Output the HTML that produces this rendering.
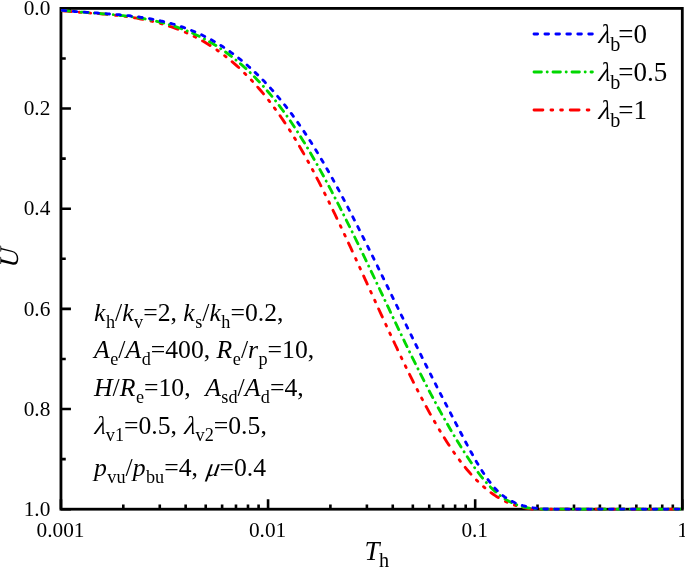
<!DOCTYPE html>
<html lang="en"><head><meta charset="utf-8"><title>U vs Th</title>
<style>
html,body{margin:0;padding:0;background:#fff}
svg{display:block}
text{white-space:pre;font-family:"Liberation Serif","Times New Roman",serif;fill:#000}
.i{font-style:italic}
.tk{font-size:21.3px}
.lg{font-size:27px}
.an{font-size:25.7px}
</style></head>
<body>
<svg width="685" height="567" viewBox="0 0 685 567">
<rect width="685" height="567" fill="#fff"/>
<path d="M60.95 8.40H70.95M60.95 108.56H70.95M60.95 208.72H70.95M60.95 308.88H70.95M60.95 409.04H70.95M60.95 509.20H70.95M60.95 58.48H65.75M60.95 158.64H65.75M60.95 258.80H65.75M60.95 358.96H65.75M60.95 459.12H65.75M60.95 509.20V499.20M123.30 509.20V504.40M159.77 509.20V504.40M185.65 509.20V504.40M205.72 509.20V504.40M222.12 509.20V504.40M235.98 509.20V504.40M247.99 509.20V504.40M258.59 509.20V504.40M268.07 509.20V499.20M330.41 509.20V504.40M366.89 509.20V504.40M392.76 509.20V504.40M412.84 509.20V504.40M429.23 509.20V504.40M443.10 509.20V504.40M455.11 509.20V504.40M465.71 509.20V504.40M475.18 509.20V499.20M537.53 509.20V504.40M574.00 509.20V504.40M599.88 509.20V504.40M619.95 509.20V504.40M636.35 509.20V504.40M650.22 509.20V504.40M662.23 509.20V504.40M672.82 509.20V504.40M682.30 509.20V499.20" stroke="#000" stroke-width="2.6" fill="none"/>
<rect x="60.95" y="8.4" width="621.35" height="500.80" fill="none" stroke="#000" stroke-width="2.8"/>
<clipPath id="cp"><rect x="60.85" y="0" width="620.05" height="567"/></clipPath>
<g clip-path="url(#cp)" fill="none" stroke-width="2.85" stroke-linecap="round">
<polyline points="60.9,10.6 62.9,10.8 64.9,11.0 66.9,11.2 68.9,11.4 70.9,11.5 72.9,11.7 74.9,11.8 76.9,12.0 78.9,12.2 80.9,12.3 82.9,12.5 84.9,12.6 86.9,12.8 88.9,12.9 90.9,13.1 92.9,13.2 94.9,13.4 96.9,13.5 98.9,13.7 100.9,13.9 102.9,14.0 104.9,14.2 106.9,14.4 108.9,14.6 110.9,14.8 112.9,15.0 114.9,15.2 116.9,15.4 118.9,15.7 120.9,15.9 122.9,16.1 124.9,16.4 126.9,16.7 128.9,17.0 130.9,17.3 132.9,17.6 134.9,17.9 136.9,18.2 138.9,18.6 140.9,19.0 142.9,19.3 144.9,19.7 146.9,20.2 148.9,20.6 150.9,21.0 152.9,21.5 154.9,22.0 156.9,22.5 158.9,23.1 160.9,23.6 162.9,24.2 164.9,24.8 166.9,25.4 168.9,26.1 170.9,26.7 172.9,27.4 174.9,28.1 176.9,28.9 178.9,29.6 180.9,30.4 182.9,31.3 184.9,32.1 186.9,33.0 188.9,33.9 190.9,34.8 192.9,35.8 194.9,36.8 196.9,37.8 198.9,38.9 200.9,40.0 202.9,41.1 204.9,42.3 206.9,43.5 208.9,44.7 210.9,46.0 212.9,47.3 214.9,48.6 216.9,50.0 218.9,51.4 220.9,52.9 222.9,54.4 224.9,55.9 226.9,57.5 228.9,59.1 230.9,60.7 232.9,62.4 234.9,64.1 236.9,65.9 238.9,67.7 240.9,69.6 242.9,71.5 244.9,73.5 246.9,75.5 248.9,77.5 250.9,79.6 252.9,81.7 254.9,83.9 256.9,86.2 258.9,88.5 260.9,90.8 262.9,93.2 264.9,95.6 266.9,98.1 268.9,100.6 270.9,103.2 272.9,105.9 274.9,108.6 276.9,111.3 278.9,114.1 280.9,117.0 282.9,119.9 284.9,122.9 286.9,125.9 288.9,129.0 290.9,132.1 292.9,135.3 294.9,138.6 296.9,141.9 298.9,145.3 300.9,148.7 302.9,152.2 304.9,155.8 306.9,159.4 308.9,163.0 310.9,166.7 312.9,170.4 314.9,174.2 316.9,178.1 318.9,181.9 320.9,185.8 322.9,189.8 324.9,193.8 326.9,197.8 328.9,201.9 330.9,205.9 332.9,210.1 334.9,214.2 336.9,218.4 338.9,222.6 340.9,226.8 342.9,231.1 344.9,235.3 346.9,239.6 348.9,243.9 350.9,248.2 352.9,252.6 354.9,256.9 356.9,261.3 358.9,265.7 360.9,270.0 362.9,274.4 364.9,278.8 366.9,283.2 368.9,287.6 370.9,292.0 372.9,296.4 374.9,300.7 376.9,305.1 378.9,309.5 380.9,313.9 382.9,318.2 384.9,322.5 386.9,326.9 388.9,331.2 390.9,335.5 392.9,339.8 394.9,344.0 396.9,348.2 398.9,352.4 400.9,356.6 402.9,360.8 404.9,364.9 406.9,369.0 408.9,373.1 410.9,377.1 412.9,381.1 414.9,385.1 416.9,389.0 418.9,392.9 420.9,396.7 422.9,400.5 424.9,404.2 426.9,407.9 428.9,411.6 430.9,415.2 432.9,418.7 434.9,422.2 436.9,425.6 438.9,429.0 440.9,432.3 442.9,435.6 444.9,438.8 446.9,441.9 448.9,445.0 450.9,448.0 452.9,450.9 454.9,453.8 456.9,456.6 458.9,459.3 460.9,461.9 462.9,464.5 464.9,467.0 466.9,469.5 468.9,471.8 470.9,474.1 472.9,476.3 474.9,478.4 476.9,480.5 478.9,482.4 480.9,484.3 482.9,486.1 484.9,487.8 486.9,489.5 488.9,491.1 490.9,492.6 492.9,494.0 494.9,495.4 496.9,496.7 498.9,497.9 500.9,499.0 502.9,500.1 504.9,501.1 506.9,502.1 508.9,502.9 510.9,503.8 512.9,504.5 514.9,505.2 516.9,505.9 518.9,506.4 520.9,507.0 522.9,507.5 524.9,507.9 526.9,508.3 528.9,508.6 530.9,508.9 532.9,509.1 534.9,509.1 536.9,509.1 538.9,509.1 540.9,509.1 542.9,509.1 544.9,509.1 546.9,509.1 548.9,509.1 550.9,509.1 552.9,509.1 554.9,509.1 556.9,509.1 558.9,509.1 560.9,509.1 562.9,509.1 564.9,509.1 566.9,509.1 568.9,509.1 570.9,509.1 572.9,509.1 574.9,509.1 576.9,509.1 578.9,509.1 580.9,509.1 582.9,509.1 584.9,509.1 586.9,509.1 588.9,509.1 590.9,509.1 592.9,509.1 594.9,509.1 596.9,509.1 598.9,509.1 600.9,509.1 602.9,509.1 604.9,509.1 606.9,509.1 608.9,509.1 610.9,509.1 612.9,509.1 614.9,509.1 616.9,509.1 618.9,509.1 620.9,509.1 622.9,509.1 624.9,509.1 626.9,509.1 628.9,509.1 630.9,509.1 632.9,509.1 634.9,509.1 636.9,509.1 638.9,509.1 640.9,509.1 642.9,509.1 644.9,509.1 646.9,509.1 648.9,509.1 650.9,509.1 652.9,509.1 654.9,509.1 656.9,509.1 658.9,509.1 660.9,509.1 662.9,509.1 664.9,509.1 666.9,509.1 668.9,509.1 670.9,509.1 672.9,509.1 674.9,509.1 676.9,509.1 678.9,509.1 680.9,509.1" stroke="#ff0000" stroke-dasharray="8.9 8.05 1.8 7.9 1.8 7.75" stroke-dashoffset="-1.4"/>
<polyline points="60.9,10.3 62.9,10.5 64.9,10.7 66.9,10.9 68.9,11.1 70.9,11.3 72.9,11.4 74.9,11.6 76.9,11.8 78.9,11.9 80.9,12.1 82.9,12.2 84.9,12.4 86.9,12.5 88.9,12.7 90.9,12.8 92.9,13.0 94.9,13.1 96.9,13.3 98.9,13.4 100.9,13.6 102.9,13.8 104.9,13.9 106.9,14.1 108.9,14.3 110.9,14.4 112.9,14.6 114.9,14.8 116.9,15.0 118.9,15.2 120.9,15.5 122.9,15.7 124.9,15.9 126.9,16.2 128.9,16.4 130.9,16.7 132.9,17.0 134.9,17.2 136.9,17.6 138.9,17.9 140.9,18.2 142.9,18.5 144.9,18.9 146.9,19.3 148.9,19.7 150.9,20.1 152.9,20.5 154.9,20.9 156.9,21.4 158.9,21.9 160.9,22.4 162.9,22.9 164.9,23.4 166.9,24.0 168.9,24.5 170.9,25.1 172.9,25.8 174.9,26.4 176.9,27.1 178.9,27.8 180.9,28.5 182.9,29.2 184.9,30.0 186.9,30.8 188.9,31.6 190.9,32.5 192.9,33.3 194.9,34.3 196.9,35.2 198.9,36.1 200.9,37.1 202.9,38.2 204.9,39.2 206.9,40.3 208.9,41.4 210.9,42.6 212.9,43.8 214.9,45.0 216.9,46.2 218.9,47.5 220.9,48.9 222.9,50.2 224.9,51.6 226.9,53.0 228.9,54.5 230.9,56.0 232.9,57.6 234.9,59.2 236.9,60.8 238.9,62.5 240.9,64.2 242.9,65.9 244.9,67.7 246.9,69.5 248.9,71.4 250.9,73.3 252.9,75.3 254.9,77.3 256.9,79.4 258.9,81.5 260.9,83.6 262.9,85.8 264.9,88.1 266.9,90.4 268.9,92.7 270.9,95.1 272.9,97.5 274.9,100.0 276.9,102.6 278.9,105.2 280.9,107.8 282.9,110.5 284.9,113.2 286.9,116.0 288.9,118.9 290.9,121.8 292.9,124.8 294.9,127.8 296.9,130.9 298.9,134.0 300.9,137.2 302.9,140.4 304.9,143.6 306.9,147.0 308.9,150.3 310.9,153.7 312.9,157.2 314.9,160.7 316.9,164.2 318.9,167.8 320.9,171.4 322.9,175.0 324.9,178.7 326.9,182.4 328.9,186.2 330.9,189.9 332.9,193.8 334.9,197.6 336.9,201.5 338.9,205.4 340.9,209.3 342.9,213.3 344.9,217.3 346.9,221.3 348.9,225.3 350.9,229.3 352.9,233.4 354.9,237.5 356.9,241.6 358.9,245.7 360.9,249.8 362.9,254.0 364.9,258.2 366.9,262.3 368.9,266.5 370.9,270.7 372.9,274.9 374.9,279.1 376.9,283.4 378.9,287.6 380.9,291.8 382.9,296.0 384.9,300.3 386.9,304.5 388.9,308.7 390.9,313.0 392.9,317.2 394.9,321.4 396.9,325.6 398.9,329.8 400.9,334.0 402.9,338.1 404.9,342.3 406.9,346.4 408.9,350.5 410.9,354.6 412.9,358.7 414.9,362.7 416.9,366.7 418.9,370.7 420.9,374.7 422.9,378.6 424.9,382.6 426.9,386.4 428.9,390.3 430.9,394.1 432.9,397.9 434.9,401.6 436.9,405.3 438.9,409.0 440.9,412.6 442.9,416.2 444.9,419.7 446.9,423.2 448.9,426.7 450.9,430.2 452.9,433.6 454.9,436.9 456.9,440.2 458.9,443.5 460.9,446.7 462.9,449.9 464.9,453.1 466.9,456.2 468.9,459.2 470.9,462.2 472.9,465.2 474.9,468.0 476.9,470.8 478.9,473.5 480.9,476.1 482.9,478.6 484.9,481.0 486.9,483.2 488.9,485.4 490.9,487.5 492.9,489.4 494.9,491.2 496.9,493.0 498.9,494.6 500.9,496.1 502.9,497.5 504.9,498.9 506.9,500.1 508.9,501.3 510.9,502.3 512.9,503.3 514.9,504.2 516.9,504.9 518.9,505.7 520.9,506.3 522.9,506.8 524.9,507.3 526.9,507.7 528.9,508.1 530.9,508.4 532.9,508.6 534.9,508.8 536.9,509.0 538.9,509.1 540.9,509.1 542.9,509.1 544.9,509.1 546.9,509.1 548.9,509.1 550.9,509.1 552.9,509.1 554.9,509.1 556.9,509.1 558.9,509.1 560.9,509.1 562.9,509.1 564.9,509.1 566.9,509.1 568.9,509.1 570.9,509.1 572.9,509.1 574.9,509.1 576.9,509.1 578.9,509.1 580.9,509.1 582.9,509.1 584.9,509.1 586.9,509.1 588.9,509.1 590.9,509.1 592.9,509.1 594.9,509.1 596.9,509.1 598.9,509.1 600.9,509.1 602.9,509.1 604.9,509.1 606.9,509.1 608.9,509.1 610.9,509.1 612.9,509.1 614.9,509.1 616.9,509.1 618.9,509.1 620.9,509.1 622.9,509.1 624.9,509.1 626.9,509.1 628.9,509.1 630.9,509.1 632.9,509.1 634.9,509.1 636.9,509.1 638.9,509.1 640.9,509.1 642.9,509.1 644.9,509.1 646.9,509.1 648.9,509.1 650.9,509.1 652.9,509.1 654.9,509.1 656.9,509.1 658.9,509.1 660.9,509.1 662.9,509.1 664.9,509.1 666.9,509.1 668.9,509.1 670.9,509.1 672.9,509.1 674.9,509.1 676.9,509.1 678.9,509.1 680.9,509.1" stroke="#00d800" stroke-dasharray="7.4 5.75 0.1 5.75" stroke-dashoffset="-1.4"/>
<polyline points="60.9,10.2 62.9,10.4 64.9,10.6 66.9,10.8 68.9,11.0 70.9,11.1 72.9,11.3 74.9,11.5 76.9,11.6 78.9,11.8 80.9,11.9 82.9,12.1 84.9,12.2 86.9,12.4 88.9,12.5 90.9,12.6 92.9,12.8 94.9,12.9 96.9,13.0 98.9,13.2 100.9,13.3 102.9,13.5 104.9,13.6 106.9,13.8 108.9,13.9 110.9,14.1 112.9,14.2 114.9,14.4 116.9,14.6 118.9,14.7 120.9,14.9 122.9,15.1 124.9,15.3 126.9,15.5 128.9,15.7 130.9,16.0 132.9,16.2 134.9,16.4 136.9,16.7 138.9,17.0 140.9,17.3 142.9,17.6 144.9,17.9 146.9,18.2 148.9,18.6 150.9,18.9 152.9,19.3 154.9,19.7 156.9,20.1 158.9,20.5 160.9,21.0 162.9,21.4 164.9,21.9 166.9,22.4 168.9,22.9 170.9,23.5 172.9,24.0 174.9,24.6 176.9,25.2 178.9,25.9 180.9,26.5 182.9,27.2 184.9,27.9 186.9,28.6 188.9,29.4 190.9,30.2 192.9,31.0 194.9,31.8 196.9,32.7 198.9,33.6 200.9,34.5 202.9,35.5 204.9,36.5 206.9,37.5 208.9,38.6 210.9,39.6 212.9,40.7 214.9,41.9 216.9,43.1 218.9,44.3 220.9,45.5 222.9,46.8 224.9,48.1 226.9,49.5 228.9,50.9 230.9,52.3 232.9,53.7 234.9,55.2 236.9,56.7 238.9,58.3 240.9,59.9 242.9,61.5 244.9,63.2 246.9,64.9 248.9,66.7 250.9,68.5 252.9,70.3 254.9,72.2 256.9,74.1 258.9,76.0 260.9,78.0 262.9,80.1 264.9,82.1 266.9,84.2 268.9,86.4 270.9,88.6 272.9,90.8 274.9,93.1 276.9,95.5 278.9,97.8 280.9,100.3 282.9,102.7 284.9,105.2 286.9,107.8 288.9,110.4 290.9,113.0 292.9,115.7 294.9,118.5 296.9,121.2 298.9,124.1 300.9,127.0 302.9,129.9 304.9,132.9 306.9,135.9 308.9,139.0 310.9,142.1 312.9,145.3 314.9,148.5 316.9,151.8 318.9,155.1 320.9,158.4 322.9,161.8 324.9,165.3 326.9,168.8 328.9,172.3 330.9,175.8 332.9,179.4 334.9,183.1 336.9,186.7 338.9,190.4 340.9,194.2 342.9,197.9 344.9,201.7 346.9,205.5 348.9,209.3 350.9,213.2 352.9,217.1 354.9,221.0 356.9,224.9 358.9,228.9 360.9,232.8 362.9,236.8 364.9,240.8 366.9,244.8 368.9,248.8 370.9,252.9 372.9,256.9 374.9,261.0 376.9,265.0 378.9,269.1 380.9,273.2 382.9,277.3 384.9,281.4 386.9,285.5 388.9,289.6 390.9,293.7 392.9,297.8 394.9,301.9 396.9,306.0 398.9,310.1 400.9,314.2 402.9,318.3 404.9,322.4 406.9,326.5 408.9,330.6 410.9,334.6 412.9,338.7 414.9,342.8 416.9,346.8 418.9,350.9 420.9,354.9 422.9,359.0 424.9,363.0 426.9,367.0 428.9,371.0 430.9,374.9 432.9,378.9 434.9,382.8 436.9,386.8 438.9,390.7 440.9,394.6 442.9,398.4 444.9,402.3 446.9,406.2 448.9,410.0 450.9,413.8 452.9,417.7 454.9,421.5 456.9,425.3 458.9,429.2 460.9,433.0 462.9,436.8 464.9,440.6 466.9,444.4 468.9,448.1 470.9,451.8 472.9,455.4 474.9,459.0 476.9,462.5 478.9,465.8 480.9,469.1 482.9,472.2 484.9,475.3 486.9,478.2 488.9,480.9 490.9,483.5 492.9,485.9 494.9,488.2 496.9,490.3 498.9,492.2 500.9,494.0 502.9,495.6 504.9,497.1 506.9,498.5 508.9,499.7 510.9,500.8 512.9,501.8 514.9,502.8 516.9,503.6 518.9,504.3 520.9,505.0 522.9,505.6 524.9,506.1 526.9,506.6 528.9,507.1 530.9,507.5 532.9,507.8 534.9,508.1 536.9,508.3 538.9,508.5 540.9,508.7 542.9,508.8 544.9,509.0 546.9,509.0 548.9,509.1 550.9,509.1 552.9,509.1 554.9,509.1 556.9,509.1 558.9,509.1 560.9,509.1 562.9,509.1 564.9,509.1 566.9,509.1 568.9,509.1 570.9,509.1 572.9,509.1 574.9,509.1 576.9,509.1 578.9,509.1 580.9,509.1 582.9,509.1 584.9,509.1 586.9,509.1 588.9,509.1 590.9,509.1 592.9,509.1 594.9,509.1 596.9,509.1 598.9,509.1 600.9,509.1 602.9,509.1 604.9,509.1 606.9,509.1 608.9,509.1 610.9,509.1 612.9,509.1 614.9,509.1 616.9,509.1 618.9,509.1 620.9,509.1 622.9,509.1 624.9,509.1 626.9,509.1 628.9,509.1 630.9,509.1 632.9,509.1 634.9,509.1 636.9,509.1 638.9,509.1 640.9,509.1 642.9,509.1 644.9,509.1 646.9,509.1 648.9,509.1 650.9,509.1 652.9,509.1 654.9,509.1 656.9,509.1 658.9,509.1 660.9,509.1 662.9,509.1 664.9,509.1 666.9,509.1 668.9,509.1 670.9,509.1 672.9,509.1 674.9,509.1 676.9,509.1 678.9,509.1 680.9,509.1" stroke="#0000ff" stroke-dasharray="3.6 7.35" stroke-dashoffset="-1.4"/>
</g>
<g fill="none" stroke-width="2.85" stroke-linecap="round">
<path d="M532.6 34H593.7" stroke="#0000ff" stroke-dasharray="3.6 7.35" stroke-dashoffset="-1.4"/>
<path d="M532.6 72H592.4" stroke="#00d800" stroke-dasharray="7.4 5.75 0.1 5.75" stroke-dashoffset="-1.4"/>
<path d="M532.6 110H593.7" stroke="#ff0000" stroke-dasharray="8.9 8.05 1.8 7.9 1.8 7.75" stroke-dashoffset="-1.4"/>
</g>
<text class="lg i" transform="translate(598.3 43.3) skewX(-8)">λ</text>
<text class="lg" x="610.3" y="43.3"><tspan font-size="20.2" dy="7.2">b</tspan><tspan x="618.2" dy="-7.2">=0</tspan></text>
<text class="lg i" transform="translate(598.3 81.3) skewX(-8)">λ</text>
<text class="lg" x="610.3" y="81.3"><tspan font-size="20.2" dy="7.2">b</tspan><tspan x="618.2" dy="-7.2">=0.5</tspan></text>
<text class="lg i" transform="translate(598.3 119.3) skewX(-8)">λ</text>
<text class="lg" x="610.3" y="119.3"><tspan font-size="20.2" dy="7.2">b</tspan><tspan x="618.2" dy="-7.2">=1</tspan></text>
<text class="tk" x="50.3" y="15.1" text-anchor="end">0.0</text>
<text class="tk" x="50.3" y="115.3" text-anchor="end">0.2</text>
<text class="tk" x="50.3" y="215.4" text-anchor="end">0.4</text>
<text class="tk" x="50.3" y="315.6" text-anchor="end">0.6</text>
<text class="tk" x="50.3" y="415.7" text-anchor="end">0.8</text>
<text class="tk" x="50.3" y="515.9" text-anchor="end">1.0</text>
<text class="tk" x="60.5" y="537" text-anchor="middle">0.001</text>
<text class="tk" x="267.6" y="537" text-anchor="middle">0.01</text>
<text class="tk" x="474.7" y="537" text-anchor="middle">0.1</text>
<text class="tk" x="682.7" y="537" text-anchor="middle">1</text>
<text class="lg" x="364.5" y="560.2"><tspan class="i">T</tspan><tspan x="378.9" font-size="20.2" dy="7.2">h</tspan></text>
<text class="lg i" transform="translate(18 267.8) rotate(-90) skewX(-4)">U</text>
<text class="an" x="94" y="320.6"><tspan class="i">k</tspan><tspan font-size="18.2" dx="0.5" dy="7">h</tspan><tspan dy="-7">/</tspan><tspan class="i">k</tspan><tspan font-size="18.2" dx="0.5" dy="7">v</tspan><tspan dy="-7">=2, </tspan><tspan class="i">k</tspan><tspan font-size="18.2" dx="0.5" dy="7">s</tspan><tspan dy="-7">/</tspan><tspan class="i">k</tspan><tspan font-size="18.2" dx="0.5" dy="7">h</tspan><tspan dy="-7">=0.2,</tspan></text>
<text class="an" x="94" y="358.1"><tspan class="i">A</tspan><tspan font-size="18.2" dx="0.5" dy="7">e</tspan><tspan dy="-7">/</tspan><tspan class="i">A</tspan><tspan font-size="18.2" dx="0.5" dy="7">d</tspan><tspan dy="-7">=400, </tspan><tspan class="i">R</tspan><tspan font-size="18.2" dx="0.5" dy="7">e</tspan><tspan dy="-7">/</tspan><tspan class="i">r</tspan><tspan font-size="18.2" dx="0.5" dy="7">p</tspan><tspan dy="-7">=10,</tspan></text>
<text class="an" x="94" y="396.4"><tspan class="i">H</tspan><tspan>/</tspan><tspan class="i">R</tspan><tspan font-size="18.2" dx="0.5" dy="7">e</tspan><tspan dy="-7">=10,  </tspan><tspan class="i" dx="1.7">A</tspan><tspan font-size="18.2" dx="0.5" dy="7">sd</tspan><tspan dy="-7">/</tspan><tspan class="i">A</tspan><tspan font-size="18.2" dx="0.5" dy="7">d</tspan><tspan dy="-7">=4,</tspan></text>
<text class="an i" transform="translate(94.3 434) skewX(-8)">λ</text>
<text class="an" x="105.3" y="434.0"><tspan font-size="18.2" dx="0.5" dy="7">v1</tspan><tspan dy="-7">=0.5, </tspan></text>
<text class="an i" transform="translate(184 434) skewX(-8)">λ</text>
<text class="an" x="195.1" y="434.0"><tspan font-size="18.2" dx="0.5" dy="7">v2</tspan><tspan dy="-7">=0.5,</tspan></text>
<text class="an" x="94" y="475.6"><tspan class="i">p</tspan><tspan font-size="18.2" dx="0.5" dy="7">vu</tspan><tspan dy="-7">/</tspan><tspan class="i">p</tspan><tspan font-size="18.2" dx="0.5" dy="7">bu</tspan><tspan dy="-7">=4, </tspan></text>
<text class="an i" transform="translate(205.8 475.6) skewX(-10)">μ</text>
<text class="an" x="219.5" y="475.6">=0.4</text>
</svg>
</body></html>
